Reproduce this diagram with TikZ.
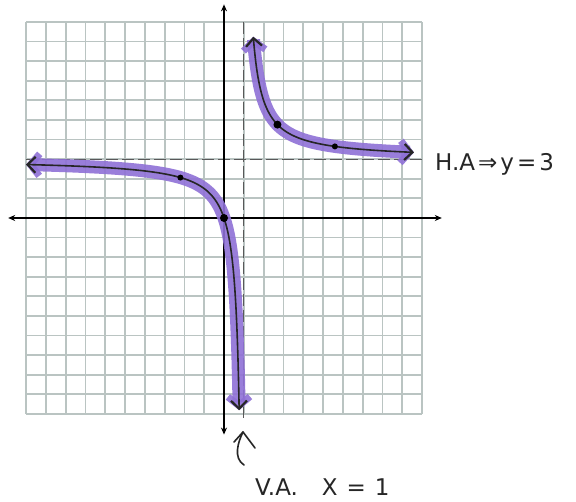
\documentclass[tikz,border=0pt]{standalone}
\usepackage{fontspec}
\setmainfont{DejaVu Sans}
\usetikzlibrary{arrows.meta}
\definecolor{gridc}{RGB}{186,196,194}
\definecolor{hlc}{RGB}{143,112,214}
\begin{document}
\begin{tikzpicture}[x=1pt,y=-1pt,
  gridline/.style={gridc, line width=1.8pt},
  axis/.style={black, line width=1.8pt, {Stealth[length=7pt,width=6pt]}-{Stealth[length=7pt,width=6pt]}},
  hl/.style={hlc, line width=13pt, line cap=round, opacity=0.9,
    {Straight Barb[length=9pt,width=22pt,line width=7pt]}-{Straight Barb[length=9pt,width=22pt,line width=7pt]}},
  curve/.style={black!85, line width=1.6pt,
    {Straight Barb[length=8pt,width=16pt,line width=2.2pt]}-{Straight Barb[length=8pt,width=16pt,line width=2.2pt]}},
  asym/.style={black!65, line width=0.8pt, dash pattern=on 12pt off 4pt},
  lbl/.style={font=\fontsize{23}{26}\selectfont, inner sep=0pt, black!85}]
\useasboundingbox (0,0) rectangle (576,502);
\fill[white] (0,0) rectangle (576,502);
\begin{scope}[shift={(224,218)}, x=19.8pt, y=19.6pt]
  % grid
  \foreach \i in {-10,...,10} {
    \draw[gridline] (\i,-10) -- (\i,10);
    \draw[gridline] (-10,\i) -- (10,\i);
  }
  % asymptotes
  \draw[asym] (1,10) -- (1,-10.3);
  \draw[asym] (-10,3) -- (10,3);
  % axes
  \coordinate (xl) at (-10.9,0);
  \coordinate (xr) at (11.0,0);
  \coordinate (yt) at (0,10.9);
  \coordinate (yb) at (0,-11.05);
  \draw[axis] (xl) -- (xr);
  \draw[axis] (yb) -- (yt);
  % highlighter
  \draw[hl] plot[domain=2.398:-1.452, samples=120, variable=\t] ({1-exp(\t)},{3-3*exp(-\t)});
  \draw[hl] plot[domain=-0.734:2.152, samples=120, variable=\t] ({1+exp(\t)},{3+3*exp(-\t)});
  % pencil curve
  \draw[curve] plot[domain=2.398:-1.452, samples=120, variable=\t] ({1-exp(\t)},{3-3*exp(-\t)});
  \draw[curve] plot[domain=-0.734:2.152, samples=120, variable=\t] ({1+exp(\t)},{3+3*exp(-\t)});
  % points
  \fill (0,0) circle[radius=4pt];
  \fill (-2.2,{3*(-2.2)/(-3.2)}) circle[radius=3pt];
  \fill (2.7,{3*2.7/1.7}) circle[radius=4pt];
  \fill (5.6,{3*5.6/4.6}) circle[radius=3pt];
\end{scope}
% labels
\node[lbl, anchor=west] (ha) at (435,164) {H.A\kern3pt⇒\kern3pty\kern3pt=\kern3pt3};
\node[lbl, anchor=west] (va) at (255,487) {V.A.\hspace{24pt}X\hspace{9pt}=\hspace{9pt}1};
% pointer arrow
\coordinate (ps) at (244,465);
\coordinate (pt) at (243,432);
\draw[black!85, line width=1.6pt, line cap=round] (ps) .. controls (233,458) and (238,442) .. (pt);
\draw[black!85, line width=1.6pt, line cap=round, line join=round] (234,442) -- (pt) -- (255,448);
\end{tikzpicture}
\end{document}
